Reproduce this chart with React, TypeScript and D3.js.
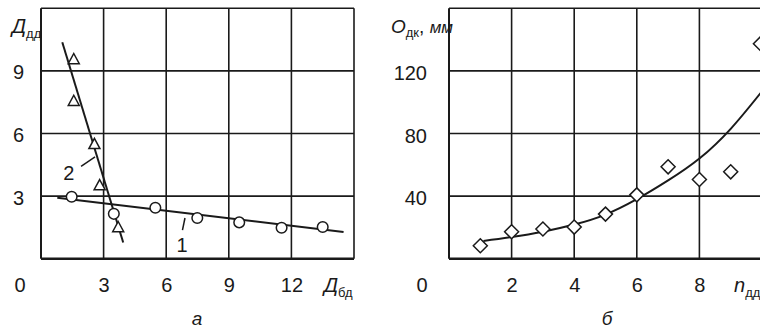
import React from "react";
import * as d3 from "d3";

// ---- Panel а ----
const seriesCirclesX = [1.47, 3.49, 5.48, 7.49, 9.5, 11.53, 13.5];
const seriesCirclesY = [2.97, 2.15, 2.44, 1.95, 1.74, 1.48, 1.52];
const seriesTrianglesX = [1.57, 1.57, 2.56, 2.81, 3.7];
const seriesTrianglesY = [9.57, 7.57, 5.5, 3.53, 1.52];
const fitLine1 = [[0.78, 2.92], [14.5, 1.28]];
const fitLine2 = [[1.02, 10.37], [3.94, 0.78]];
const leftXTicks = [3, 6, 9, 12];
const leftYTicks = [3, 6, 9];
const leftXGrid = [0, 3, 6, 9, 12, 15];
const leftYGrid = [0, 3, 6, 9, 12];

// ---- Panel б ----
const diamondsX = [1, 2, 3, 4, 5, 6, 7, 8, 9, 9.95];
const diamondsY = [8.3, 17.2, 19, 20.2, 28.5, 40.8, 58.7, 50.6, 55.5, 137.4];
const curveX = [1.1, 2, 3, 4, 5, 6, 7, 8, 9, 10];
const curveY = [11.3, 13.8, 17.2, 21.8, 28.2, 38, 50, 64, 83, 107];
const rightXTicks = [2, 4, 6, 8];
const rightYTicks = [40, 80, 120];
const rightXGrid = [0, 2, 4, 6, 8, 10];
const rightYGrid = [0, 40, 80, 120, 160];

const W = 760;
const H = 329;
const FONT = "'Liberation Sans', Arial, sans-serif";
const INK = "#1a1a1a";

export default function App() {
  const xL = d3.scaleLinear().domain([0, 15]).range([41, 354]);
  const yL = d3.scaleLinear().domain([0, 12]).range([258.7, 8.3]);
  const xR = d3.scaleLinear().domain([0, 10]).range([449, 762]);
  const yR = d3.scaleLinear().domain([0, 160]).range([258.7, 8.3]);

  const line = d3.line<number[]>();
  const curve = d3
    .line<number>()
    .x((_, i) => xR(curveX[i]))
    .y((_, i) => yR(curveY[i]))
    .curve(d3.curveNatural);

  const tri = (cx: number, cy: number, s = 5.5) =>
    `M${cx},${cy - s}L${cx + s},${cy + s * 0.85}L${cx - s},${cy + s * 0.85}Z`;
  const dia = (cx: number, cy: number, s = 7) =>
    `M${cx},${cy - s}L${cx + s},${cy}L${cx},${cy + s}L${cx - s},${cy}Z`;

  const grid = (
    xs: d3.ScaleLinear<number, number>,
    ys: d3.ScaleLinear<number, number>,
    gx: number[],
    gy: number[]
  ) => (
    <g>
      {gx.map((v, i) => (
        <line
          key={"x" + v}
          x1={xs(v)}
          x2={xs(v)}
          y1={ys.range()[0]}
          y2={ys.range()[1]}
          stroke={INK}
          strokeWidth={i === 0 ? 2 : 1.6}
        />
      ))}
      {gy.map((v, i) => (
        <line
          key={"y" + v}
          x1={xs.range()[0]}
          x2={xs.range()[1]}
          y1={ys(v)}
          y2={ys(v)}
          stroke={INK}
          strokeWidth={i === 0 ? 2.4 : 1.6}
        />
      ))}
    </g>
  );

  const tickStyle = { fontFamily: FONT, fontSize: 20, fill: INK } as const;

  return (
    <svg
      width={W}
      height={H}
      style={{ position: "absolute", left: 0, top: 0, background: "#fff" }}
    >
      <rect width={W} height={H} fill="#fff" />
      {/* ---------- Panel а ---------- */}
      {grid(xL, yL, leftXGrid, leftYGrid)}
      {leftYTicks.map((v) => (
        <text key={v} x={24} y={yL(v) + 8.5} textAnchor="end" {...tickStyle}>
          {v}
        </text>
      ))}
      {leftXTicks.map((v) => (
        <text key={v} x={xL(v) + 0.5} y={292} textAnchor="middle" {...tickStyle}>
          {v}
        </text>
      ))}
      <text x={20} y={292} textAnchor="middle" {...tickStyle}>
        0
      </text>
      <text x={324} y={292} fontFamily={FONT} fontSize={20} fontStyle="italic" fill={INK}>
        Д<tspan fontSize={13} dy={5} fontStyle="normal">бд</tspan>
      </text>
      <text x={12} y={33} fontFamily={FONT} fontSize={20} fontStyle="italic" fill={INK}>
        Д<tspan fontSize={13} dy={5} fontStyle="normal">дд</tspan>
      </text>
      <text x={197} y={325} textAnchor="middle" fontFamily={FONT} fontSize={19} fontStyle="italic" fill={INK}>
        а
      </text>

      <path d={line(fitLine1.map(([a, b]) => [xL(a), yL(b)]) as any) || ""} stroke={INK} strokeWidth={2} fill="none" />
      <path d={line(fitLine2.map(([a, b]) => [xL(a), yL(b)]) as any) || ""} stroke={INK} strokeWidth={2} fill="none" />

      {seriesCirclesX.map((v, i) => (
        <circle key={i} cx={xL(v)} cy={yL(seriesCirclesY[i])} r={5.3} fill="#fff" stroke={INK} strokeWidth={1.5} />
      ))}
      {seriesTrianglesX.map((v, i) => (
        <path key={i} d={tri(xL(v), yL(seriesTrianglesY[i]))} fill="#fff" stroke={INK} strokeWidth={1.5} />
      ))}

      {/* labels 1, 2 with leaders */}
      <line x1={xL(1.92)} y1={yL(4.43)} x2={xL(2.59)} y2={yL(4.88)} stroke={INK} strokeWidth={1.5} />
      <text x={xL(1.33)} y={yL(3.77)} textAnchor="middle" {...tickStyle}>2</text>
      <line x1={xL(6.78)} y1={yL(1.37)} x2={xL(6.9)} y2={yL(1.95)} stroke={INK} strokeWidth={1.5} />
      <text x={xL(6.76)} y={yL(0.33)} textAnchor="middle" {...tickStyle}>1</text>

      {/* ---------- Panel б ---------- */}
      {grid(xR, yR, rightXGrid, rightYGrid)}
      {rightYTicks.map((v) => (
        <text key={v} x={427} y={yR(v) + 9} textAnchor="end" {...tickStyle}>
          {v}
        </text>
      ))}
      {rightXTicks.map((v) => (
        <text key={v} x={xR(v) + 0.5} y={292} textAnchor="middle" {...tickStyle}>
          {v}
        </text>
      ))}
      <text x={422} y={292} textAnchor="middle" {...tickStyle}>
        0
      </text>
      <text x={734} y={292} fontFamily={FONT} fontSize={20} fontStyle="italic" fill={INK}>
        n<tspan fontSize={13} dy={5} fontStyle="normal">дд</tspan>
      </text>
      <text x={391} y={33} fontFamily={FONT} fontSize={19} fontStyle="italic" fill={INK}>
        О<tspan fontSize={13} dy={4} fontStyle="normal">дк</tspan>
        <tspan dy={-4} fontStyle="normal" fontSize={19}>, </tspan>
        <tspan fontSize={17}>мм</tspan>
      </text>
      <text x={607} y={325} textAnchor="middle" fontFamily={FONT} fontSize={19} fontStyle="italic" fill={INK}>
        б
      </text>

      <path d={curve(curveX) || ""} stroke={INK} strokeWidth={2} fill="none" />
      {diamondsX.map((v, i) => (
        <path key={i} d={dia(xR(v), yR(diamondsY[i]))} fill="#fff" stroke={INK} strokeWidth={1.5} />
      ))}
    </svg>
  );
}
